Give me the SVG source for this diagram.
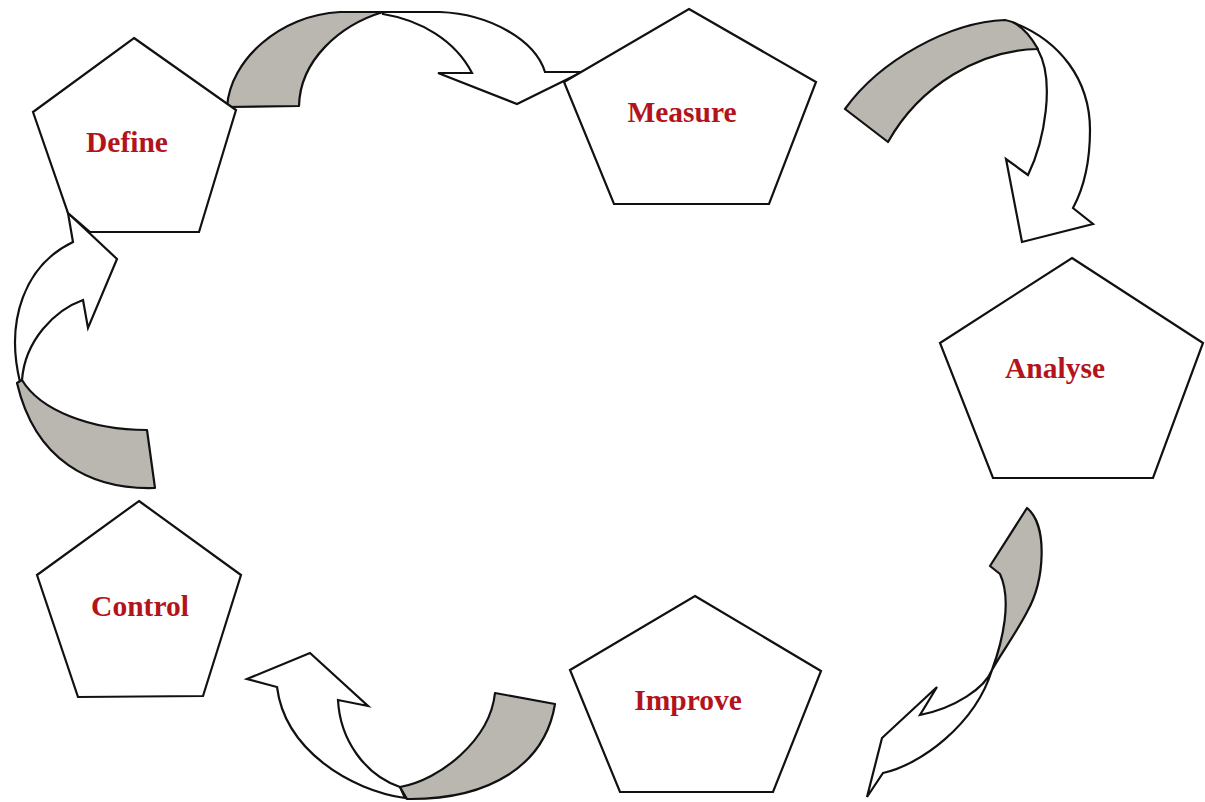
<svg xmlns="http://www.w3.org/2000/svg" width="1205" height="802" viewBox="0 0 1205 802">
<style>
.pent{fill:#fff;stroke:#111;stroke-width:2.2;stroke-linejoin:miter}
.lbl{font-family:"Liberation Serif","Times New Roman",serif;font-weight:bold;font-size:29.5px;fill:#b3141c;text-anchor:middle}
.band{fill:#bab6b0;stroke:#111;stroke-width:2.2;stroke-linejoin:round}
.head{fill:#fff;stroke:#111;stroke-width:2.2;stroke-linejoin:miter}
</style>
<rect width="1205" height="802" fill="#fff"/>
<g id="connectors">
  <g id="arrow-define-measure">
    <path class="head" d="M383,12 L440,12 C490,14 535,40 545,72 L582,72 L517,104 L438,73 L472,73 C455,40 420,20 383,14 Z"/>
    <path class="band" d="M227,107 C230,60 280,15 340,12 L383,12 C340,25 300,60 299,106 Z"/>
  </g>
  <g id="arrow-measure-analyse">
    <path class="head" d="M1012,22 C1060,40 1090,80 1090,130 C1090,170 1080,195 1073,208 L1093,224 L1022,242 L1006,159 L1028,175 C1045,140 1055,80 1038,50 Z"/>
    <path class="band" d="M845,109 C880,60 950,22 1005,20 C1020,22 1030,35 1038,49 C980,50 920,85 888,142 Z"/>
  </g>
  <g id="arrow-analyse-improve">
    <path class="head" d="M992,670 C985,688 955,708 920,715 L937,687 L882,738 L867,797 L883,773 C920,765 975,725 992,670 Z"/>
    <path class="band" d="M1027,508 C1048,525 1045,580 1027,612 C1015,635 1000,655 992,670 C1003,640 1012,600 1000,574 L990,566 Z"/>
  </g>
  <g id="arrow-improve-control">
    <path class="head" d="M405,798 C350,790 285,750 277,687 L247,679 L310,653 L368,706 L338,700 C340,740 365,775 400,787 Z"/>
    <path class="band" d="M495,693 L555,704 C545,765 490,800 407,799 L400,787 C440,780 490,740 495,693 Z"/>
  </g>
  <g id="arrow-control-define">
    <path class="head" d="M20,382 C5,320 25,265 73,242 L68,213 L117,259 L88,328 L83,300 C55,310 25,340 22,380 Z"/>
    <path class="band" d="M22,380 C40,410 90,430 147,430 L155,488 C90,490 35,460 17,383 Z"/>
  </g>
</g>
<g id="node-define">
  <polygon class="pent" points="134,38 236,110 199,232 90,232 68,213 33,112"/>
  <text class="lbl" x="127" y="152">Define</text>
</g>
<g id="node-measure">
  <polygon class="pent" points="689,9 816,82 769,204 614,204 564,82"/>
  <text class="lbl" x="682" y="122">Measure</text>
</g>
<g id="node-analyse">
  <polygon class="pent" points="1072,258 1203,343 1153,478 993,478 940,343"/>
  <text class="lbl" x="1055" y="378">Analyse</text>
</g>
<g id="node-improve">
  <polygon class="pent" points="695,596 821,671 773,792 620,792 570,670"/>
  <text class="lbl" x="688" y="710">Improve</text>
</g>
<g id="node-control">
  <polygon class="pent" points="139,501 241,575 203,696 78,697 37,575"/>
  <text class="lbl" x="140" y="616">Control</text>
</g>
</svg>
